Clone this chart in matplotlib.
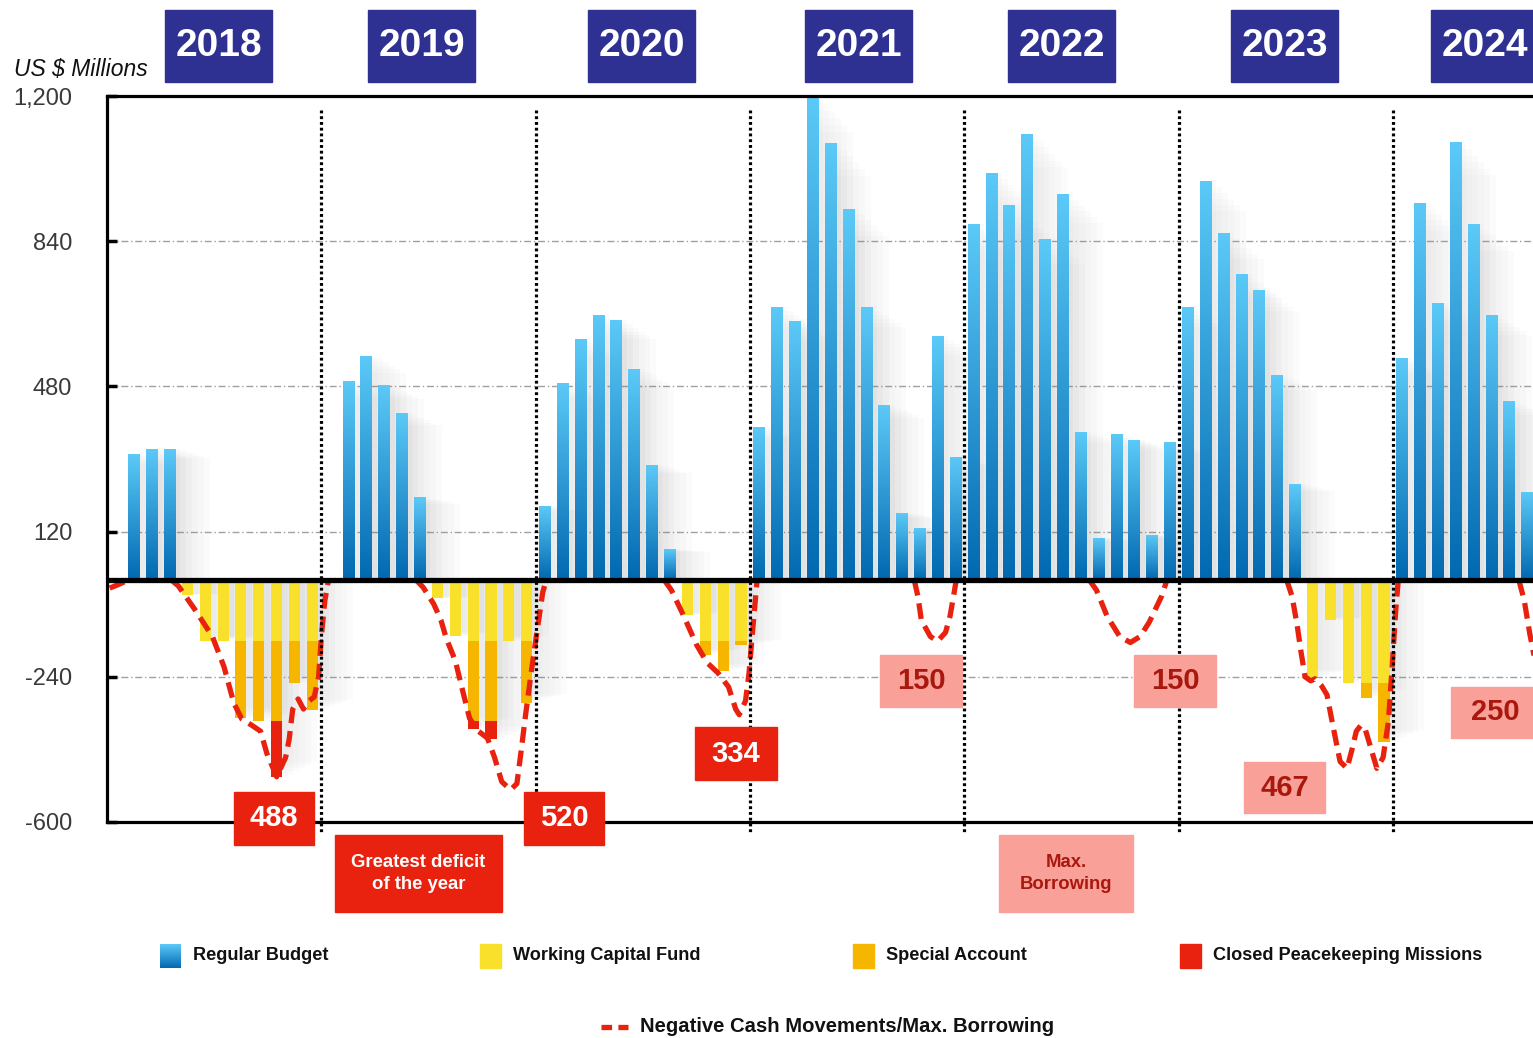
import numpy as np
import matplotlib
matplotlib.use('Agg')
import matplotlib.pyplot as plt
from matplotlib import font_manager
from matplotlib.colors import LinearSegmentedColormap
from matplotlib.patches import Rectangle
from matplotlib.lines import Line2D

W, H = 1533, 1038

# 폰트: 좁은 글꼴이 있으면 사용
names = {f.name for f in font_manager.fontManager.ttflist}
HAS_NARROW = 'Liberation Sans Narrow' in names
NARROW = 'Liberation Sans Narrow' if HAS_NARROW else 'Liberation Sans'
def fsz(n):
    return n if HAS_NARROW else n * 0.86
plt.rcParams['font.family'] = ['Liberation Sans', 'DejaVu Sans']

years = ['2018', '2019', '2020', '2021', '2022', '2023', '2024']
year_ticks = [12, 24, 36, 48, 60, 72]
y_ticks = [-600, -240, 120, 480, 840, 1200]
y_labels = ['-600', '-240', '120', '480', '840', '1,200']

# Regular Budget (월별, US$ millions)
rb_2018 = [0, 312, 326, 326, 0, 0, 0, 0, 0, 0, 0, 0]
rb_2019 = [0, 494, 556, 484, 415, 205, 0, 0, 0, 0, 0, 0]
rb_2020 = [184, 489, 598, 658, 645, 523, 286, 76, 0, 0, 0, 0]
rb_2021 = [380, 677, 643, 1200, 1084, 921, 677, 435, 165, 130, 604, 306]
rb_2022 = [882, 1010, 929, 1106, 846, 957, 368, 105, 362, 348, 112, 341]
rb_2023 = [678, 990, 861, 759, 720, 509, 238, 0, 0, 0, 0, 0]
rb_2024 = [551, 935, 687, 1085, 882, 658, 443, 219]

# Working Capital Fund
wcf_2018 = [0, 0, 0, 0, -37, -150, -150, -150, -150, -150, -150, -150]
wcf_2019 = [0, 0, 0, 0, 0, 0, -45, -140, -150, -150, -150, -150]
wcf_2020 = [0, 0, 0, 0, 0, 0, 0, 0, -87, -150, -150, -150]
wcf_2023 = [0, 0, 0, 0, 0, 0, 0, -240, -100, -255, -255, -255]

# Special Account
sa_2018 = [0, 0, 0, 0, 0, 0, 0, -193, -200, -200, -106, -172]
sa_2019 = [0, 0, 0, 0, 0, 0, 0, 0, -200, -200, 0, -155]
sa_2020 = [0, 0, 0, 0, 0, 0, 0, 0, 0, -35, -75, -10]
sa_2023 = [0, 0, 0, 0, 0, 0, 0, 0, 0, 0, -38, -146]

# Closed Peacekeeping Missions
cpm_2018 = [0, 0, 0, 0, 0, 0, 0, 0, 0, -138, 0, 0]
cpm_2019 = [0, 0, 0, 0, 0, 0, 0, 0, -20, -45, 0, 0]

zeros_12 = [0] * 12
zeros_24 = [0] * 8

# Negative Cash Movements / Max. Borrowing (월 위치, 값), nan = 끊김
neg_cash_t = [0.15, 0.6, 1.1, np.nan,
              3.6, 4.0, 4.9, 5.9, 6.55, 7.1, 7.55, 8.1, 8.6, 8.95, 9.5, 10.0, 10.2, 10.4,
              10.7, 11.0, 11.3, 11.6, 11.85, 12.0, 12.2, 12.4, np.nan,
              17.3, 17.7, 18.3, 18.7, 19.0, 19.5, 19.86, 20.3, 20.8, 21.3, 21.7, 22.1,
              22.6, 22.95, 23.2, 23.45, 23.75, 24.1, 24.4, 24.6, np.nan,
              31.2, 31.6, 32.3, 33.0, 33.6, 34.2, 34.8, 35.2, 35.4, 35.75, 35.95, 36.1,
              36.25, 36.4, np.nan,
              45.2, 45.4, 45.6, 46.1, 46.5, 46.95, 47.2, 47.4, 47.55, np.nan,
              55.0, 55.4, 56.0, 56.7, 57.3, 57.85, 58.35, 59.05, 59.35, np.nan,
              66.05, 66.35, 66.63, 66.86, 67.08, 67.4, 67.64, 68.0, 68.31, 68.59, 69.04,
              69.43, 69.71, 69.95, 70.21, 70.45, 70.72, 71.1, 71.45, 71.75, 71.95, 72.15,
              72.3, np.nan,
              79.05, 79.35, 79.65, 80.0]
neg_cash_v = [-20, -12, -2, np.nan,
              0, -15, -72, -140, -215, -305, -345, -360, -375, -430, -488, -440, -395, -320,
              -295, -320, -300, -290, -240, -140, -50, 0, np.nan,
              0, -18, -60, -100, -145, -200, -265, -343, -375, -392, -440, -500,
              -520, -505, -420, -330, -230, -120, -30, 0, np.nan,
              0, -25, -90, -160, -205, -230, -265, -320, -334, -300, -230, -150,
              -75, 0, np.nan,
              0, -40, -100, -140, -152, -130, -90, -40, 0, np.nan,
              0, -25, -90, -140, -155, -140, -105, -40, 0, np.nan,
              0, -40, -110, -180, -240, -250, -245, -262, -285, -350, -450,
              -467, -420, -375, -360, -370, -410, -467, -440, -350, -220, -80,
              0, np.nan,
              0, -50, -130, -210]

regular_budget = np.array(rb_2018 + rb_2019 + rb_2020 + rb_2021 + rb_2022 + rb_2023 + rb_2024, float)
wcf = np.array(wcf_2018 + wcf_2019 + wcf_2020 + zeros_12 + zeros_12 + wcf_2023 + zeros_24, float)
sa = np.array(sa_2018 + sa_2019 + sa_2020 + zeros_12 + zeros_12 + sa_2023 + zeros_24, float)
cpm = np.array(cpm_2018 + cpm_2019 + zeros_12 + zeros_12 + zeros_12 + zeros_12 + zeros_24, float)

C_BLUE_TOP, C_BLUE_BOT = '#5ccaf8', '#0268b0'
C_WCF, C_SA, C_CPM = '#f9e02b', '#f6b600', '#e8220f'
C_PINK, C_PINK_TXT = '#f9a199', '#a8180e'
C_NAVY = '#2e3192'

blue_cmap = LinearSegmentedColormap.from_list('rb', [C_BLUE_TOP, C_BLUE_BOT])
grad = np.linspace(0, 1, 256).reshape(-1, 1)

fig = plt.figure(figsize=(W / 100, H / 100), dpi=100)
ax = fig.add_axes([107 / W, 1 - 822 / H, 1 - 107 / W, (822 - 96) / H])

bw = 0.62
x = np.arange(len(regular_budget)) + 0.5
pos = regular_budget > 0
neg_total = wcf + sa + cpm
neg = neg_total < 0

# 그림자 (흐릿하게 여러 겹)
for k in range(6):
    a = 0.022
    ax.bar(x[pos] + 0.3 + 0.18 * k, regular_budget[pos] * (1 - 0.015 * k), width=bw + 0.3 * k,
           color='#7a7a7a', alpha=a, lw=0, zorder=1)
    ax.bar(x[neg] + 0.3 + 0.18 * k, neg_total[neg] * (1 - 0.015 * k), width=bw + 0.3 * k,
           color='#7a7a7a', alpha=a, lw=0, zorder=1)

# Regular Budget: 그라데이션 막대
bars = ax.bar(x[pos], regular_budget[pos], width=bw, color='#1f8fd5', lw=0, zorder=2)
for b in bars:
    x0, y0, w, h = b.get_x(), b.get_y(), b.get_width(), b.get_height()
    im = ax.imshow(grad, extent=[x0, x0 + w, y0, y0 + h], aspect='auto', cmap=blue_cmap,
                   origin='upper', zorder=2.1, interpolation='bilinear')
    im.set_clip_path(b)

# 음수 누적 막대
ax.bar(x, wcf, width=bw, color=C_WCF, lw=0, zorder=2)
ax.bar(x, sa, width=bw, bottom=wcf, color=C_SA, lw=0, zorder=2)
ax.bar(x, cpm, width=bw, bottom=wcf + sa, color=C_CPM, lw=0, zorder=2)

# 점선 (Negative cash movements)
ax.plot(neg_cash_t, neg_cash_v, color=C_CPM, lw=3.8, ls=(0, (3.0, 1.5)),
        solid_joinstyle='round', zorder=4, clip_on=False)

# 격자선, 0선, 연도 구분선
for v in y_ticks[1:-1]:
    ax.axhline(v, color='#a0a0a0', lw=1.0, ls=(0, (5, 2, 1, 2)), zorder=0.5)
ax.axhline(0, color='black', lw=3.8, zorder=5)
for t in year_ticks:
    ax.plot([t, t], [1165, -625], color='black', lw=2.3, ls=(0, (0.9, 0.9)),
            zorder=6, clip_on=False)

ax.set_xlim(0, (W - 107) / 17.86)
ax.set_ylim(-600, 1200)
ax.set_xticks([])
ax.set_yticks(y_ticks, y_labels)
ax.tick_params(axis='y', direction='in', length=7, width=2.5, pad=25,
               labelsize=17, labelcolor='#3a3a3a')
for s in ['top', 'left', 'bottom']:
    ax.spines[s].set_linewidth(2.3)
    ax.spines[s].set_zorder(7)
ax.spines['right'].set_visible(False)

def fx(px):
    return px / W

def fy(py):
    return 1 - py / H

def px_box(x0, y0, x1, y1, fc, text, tc, size, family='Liberation Sans', ls=1.2):
    fig.patches.append(Rectangle((fx(x0), fy(y1)), fx(x1 - x0), (y1 - y0) / H,
                                 transform=fig.transFigure, color=fc, zorder=10))
    fig.text(fx((x0 + x1) / 2), fy((y0 + y1) / 2), text, color=tc, fontsize=size,
             fontweight='bold', family=family, ha='center', va='center',
             linespacing=ls, zorder=11)

# 연도 머리표
header_px = [218, 421, 641, 858, 1061, 1284, 1484]
for yr, cx in zip(years, header_px):
    px_box(cx - 53, 10, cx + 54, 82, C_NAVY, yr, 'white',
           32 if HAS_NARROW else 28, family=NARROW)

fig.text(fx(14), fy(70), 'US $ Millions', fontsize=16.5, style='italic',
         ha='left', va='center', color='#111111')

# 주석 상자
px_box(234, 792, 314, 845, C_CPM, '488', 'white', 21)
px_box(524, 792, 604, 845, C_CPM, '520', 'white', 21)
px_box(695, 727, 777, 780, C_CPM, '334', 'white', 21)
px_box(335, 835, 502, 912, C_CPM, 'Greatest deficit\nof the year', 'white', fsz(15.5),
       family=NARROW, ls=1.4)
px_box(880, 655, 962, 707, C_PINK, '150', C_PINK_TXT, 21)
px_box(1134, 655, 1216, 707, C_PINK, '150', C_PINK_TXT, 21)
px_box(1244, 762, 1325, 813, C_PINK, '467', C_PINK_TXT, 21)
px_box(1451, 687, 1540, 738, C_PINK, '250', C_PINK_TXT, 21)
px_box(999, 835, 1133, 912, C_PINK, 'Max.\nBorrowing', C_PINK_TXT, fsz(15.5),
       family=NARROW, ls=1.4)

# 범례
legend_items = [('Regular Budget', None), ('Working Capital Fund', C_WCF),
                ('Special Account', C_SA), ('Closed Peacekeeping Missions', C_CPM)]
legend_px = [160, 480, 853, 1180]
for (label, col), lx in zip(legend_items, legend_px):
    if col is None:
        lax = fig.add_axes([fx(lx), fy(968), fx(21), 24 / H])
        lax.imshow(grad, aspect='auto', cmap=blue_cmap, interpolation='bilinear')
        lax.axis('off')
    else:
        fig.patches.append(Rectangle((fx(lx), fy(968)), fx(21), 24 / H,
                                     transform=fig.transFigure, color=col))
    fig.text(fx(lx + 33), fy(956), label, fontsize=fsz(15.2), fontweight='bold',
             family=NARROW, ha='left', va='center', color='#111111')

fig.lines.append(Line2D([fx(601), fx(628)], [fy(1027), fy(1027)], transform=fig.transFigure,
                        color=C_CPM, lw=3.8, ls=(0, (2.0, 1.2))))
fig.text(fx(640), fy(1026), 'Negative Cash Movements/Max. Borrowing', fontsize=fsz(17),
         fontweight='bold', family=NARROW, ha='left', va='center', color='#111111')

fig.savefig('out.png', dpi=100)
